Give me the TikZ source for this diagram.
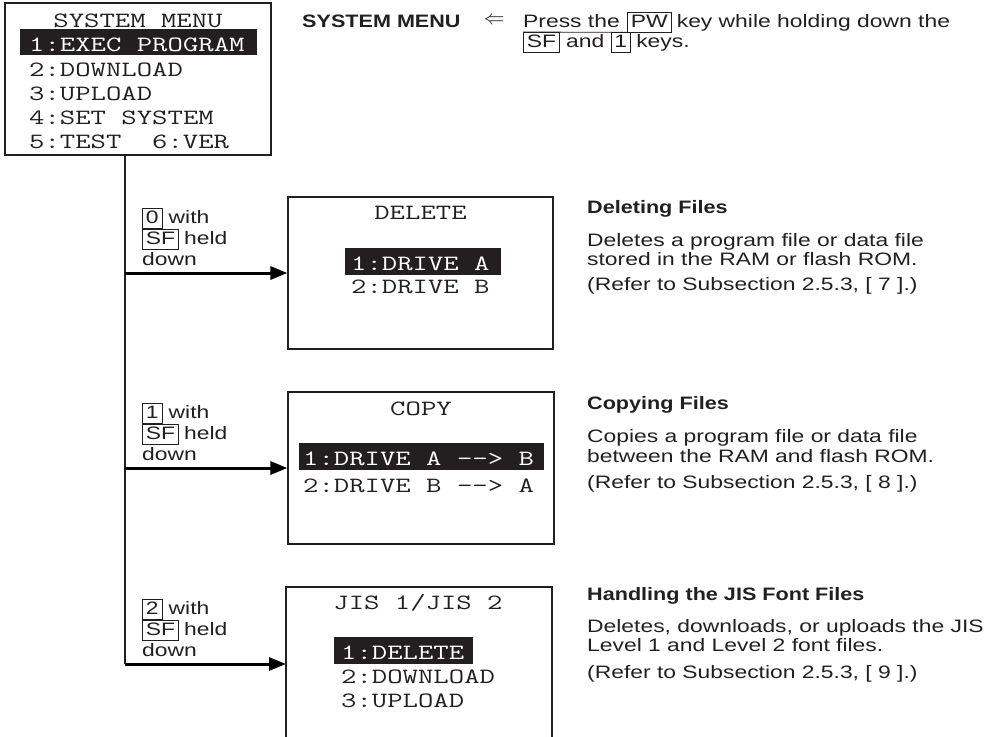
\documentclass[tikz,border=0pt]{standalone}
\usepackage{fontspec}
\usetikzlibrary{arrows.meta}
\newfontfamily\bodyf{Liberation Sans}[FakeStretch=1.27]
\newfontfamily\headf{Liberation Sans}[FakeStretch=1.2]
\newfontfamily\lcdf{Latin Modern Mono}[FakeStretch=1.37]
\definecolor{ink}{HTML}{231F20}
\tikzset{
  lcd/.style={font=\lcdf\fontsize{21.8}{24}\selectfont, text=ink, inner sep=0pt, anchor=base west},
  lcdc/.style={lcd, anchor=base},
  inv/.style={lcd, text=white},
  screen/.style={draw=ink, line width=1.2pt},
  body/.style={font=\bodyf\fontsize{18}{21}\selectfont, text=ink, inner sep=0pt, anchor=base west},
  head/.style={font=\headf\bfseries\fontsize{18}{21}\selectfont, text=ink, inner sep=0pt, anchor=base west},
  keybox/.style={body, draw=ink, line width=0.8pt, inner xsep=3.5pt, inner ysep=2pt, text height=13pt, text depth=3pt},
  trunk/.style={draw=ink, line width=1.5pt},
  branch/.style={draw=black, line width=3pt, -{Triangle[length=17pt, width=13pt]}},
}
\begin{document}
\begin{tikzpicture}[x=1pt, y=-1pt]
\useasboundingbox (0,0) rectangle (997,737);

% ---------- SYSTEM MENU screen ----------
\node[screen, minimum width=266pt, minimum height=152pt, inner sep=0pt] (menu) at (138,79) {};
\node[lcdc] (mtitle) at (138,27) {SYSTEM MENU};
\fill[ink] (20,29) rectangle (257,55);
\node[inv] (m1) at (29,51.7) {1:EXEC PROGRAM};
\node[lcd] (m2) at (29,76) {2:DOWNLOAD};
\node[lcd] (m3) at (29,100) {3:UPLOAD};
\node[lcd] (m4) at (29,124) {4:SET SYSTEM};
\node[lcd] (m5) at (29,148) {5:TEST\ \ 6:VER};

% ---------- header ----------
\node[head] (hd) at (302,27) {SYSTEM MENU};
\node[inner sep=0pt, text=ink] (larr) at (494,21) {\scalebox{2.1}{$\Leftarrow$}};
\node[body] (press) at (523,27) {Press the};
\node[keybox] (pw) at (627,27) {PW};
\node[body] (l1) at ([xshift=5pt]pw.base east) {key while holding down the};
\draw[draw=ink, line width=0.8pt] ([yshift=-5pt]press.base west) -- (pw.south west);
\node[keybox] (sfh) at (523,47.5) {SF};
\node[body] (andw) at ([xshift=6pt]sfh.base east) {and};
\node[keybox] (oneh) at ([xshift=6pt]andw.base east) {1};
\node[body] (keysw) at ([xshift=5pt]oneh.base east) {keys.};

% ---------- trunk and branches ----------
\coordinate (t0) at (125,155);
\coordinate (b1) at (125,273);
\coordinate (b2) at (125,468);
\coordinate (b3) at (125,664);
\coordinate (jin) at (286,664);
\draw[trunk] (t0) -- (b3);

% ---------- DELETE screen ----------
\node[screen, minimum width=265pt, minimum height=152pt, inner sep=0pt] (del) at (420.5,273) {};
\node[lcdc] (dt) at (420.5,219) {DELETE};
\fill[ink] (345,248) rectangle (501,275);
\node[inv] (d1) at (351,270) {1:DRIVE A};
\node[lcd] (d2) at (351,293) {2:DRIVE B};
\draw[branch] (b1) -- (del.west);

% ---------- COPY screen ----------
\node[screen, minimum width=266pt, minimum height=152pt, inner sep=0pt] (cpy) at (421,468) {};
\node[lcdc] (ct) at (421,415) {COPY};
\fill[ink] (299,443) rectangle (544,470);
\node[inv] (c1) at (303,465) {1:DRIVE A {-}{-}> B};
\node[lcd] (c2) at (303,492) {2:DRIVE B {-}{-}> A};
\draw[branch] (b2) -- (cpy.west);

% ---------- JIS screen ----------
\draw[screen] (286,737) |- (552,587) -- (552,737);
\node[lcdc] (jt) at (418,609) {JIS 1/JIS 2};
\fill[ink] (334,637) rectangle (473,664);
\node[inv] (j1) at (341,659) {1:DELETE};
\node[lcd] (j2) at (341,683) {2:DOWNLOAD};
\node[lcd] (j3) at (341,707) {3:UPLOAD};
\draw[branch] (b3) -- (jin);

% ---------- key labels ----------
\foreach \n/\k/\y in {a/0/273, b/1/468, c/2/664}{
  \node[keybox] (k\n) at (142,\y-50) {\k};
  \node[body] (w\n) at ([xshift=6pt]k\n.base east) {with};
  \node[keybox] (s\n) at (142,\y-28.5) {SF};
  \node[body] (h\n) at ([xshift=5pt]s\n.base east) {held};
  \node[body] (dn\n) at (142,\y-8) {down};
}

% ---------- descriptions ----------
\node[head] (h1) at (587,213) {Deleting Files};
\node[body] (p1a) at (587,246) {Deletes a program file or data file};
\node[body] (p1b) at (587,265) {stored in the RAM or flash ROM.};
\node[body] (p1c) at (587,290) {(Refer to Subsection 2.5.3, [ 7 ].)};

\node[head] (h2) at (587,409) {Copying Files};
\node[body] (p2a) at (587,442) {Copies a program file or data file};
\node[body] (p2b) at (587,462) {between the RAM and flash ROM.};
\node[body] (p2c) at (587,488) {(Refer to Subsection 2.5.3, [ 8 ].)};

\node[head] (h3) at (587,600) {Handling the JIS Font Files};
\node[body] (p3a) at (587,632) {Deletes, downloads, or uploads the JIS};
\node[body] (p3b) at (587,651) {Level 1 and Level 2 font files.};
\node[body] (p3c) at (587,678) {(Refer to Subsection 2.5.3, [ 9 ].)};
\end{tikzpicture}
\end{document}
